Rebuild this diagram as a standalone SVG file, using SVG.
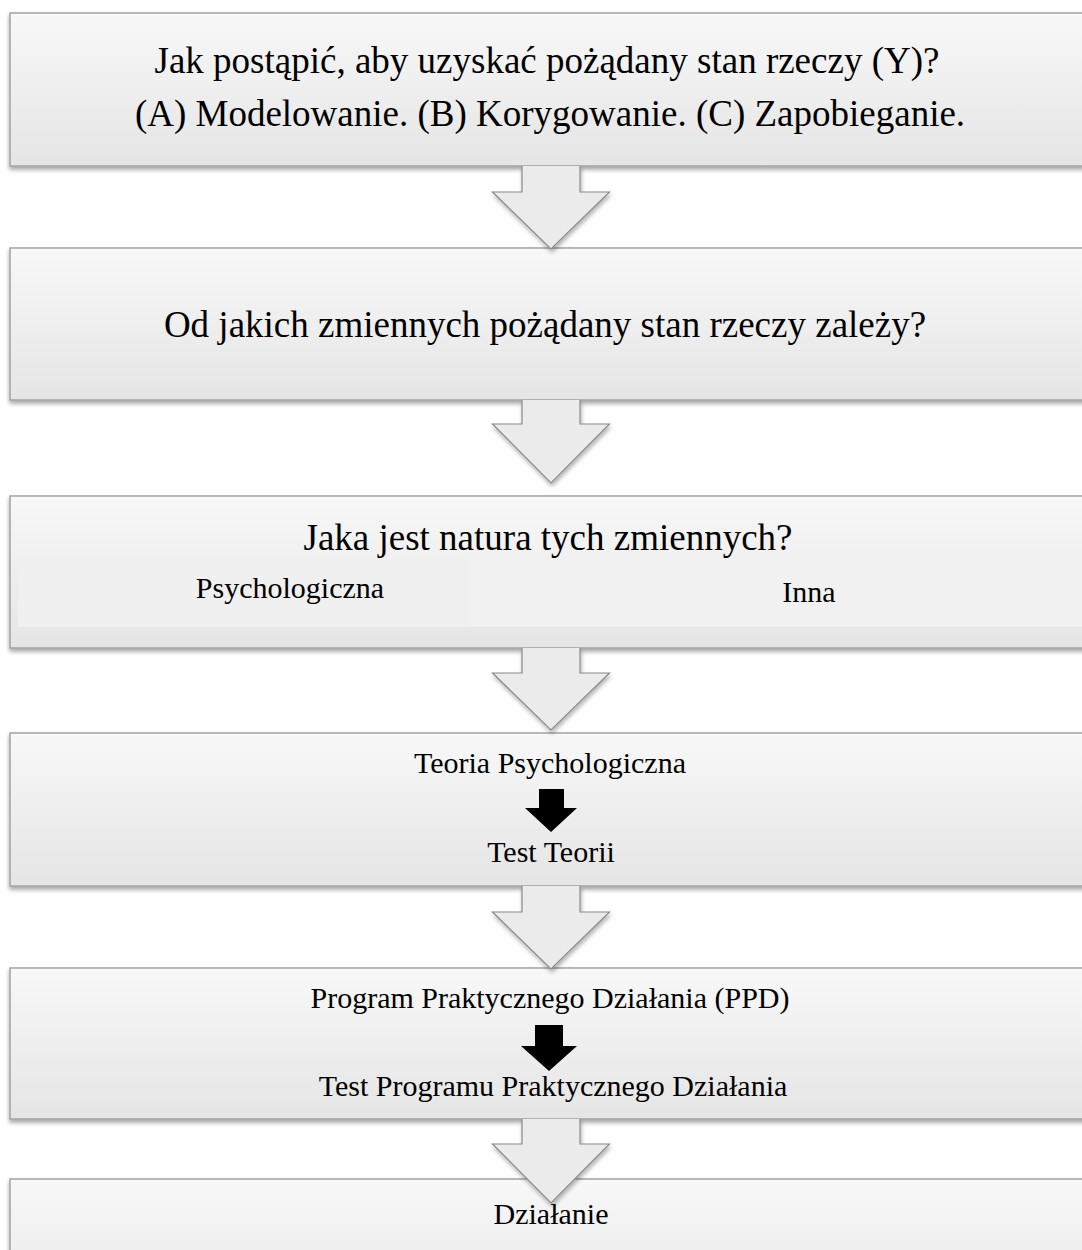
<svg xmlns="http://www.w3.org/2000/svg" width="1082" height="1250" viewBox="0 0 1082 1250">
<defs>
<linearGradient id="boxGrad" x1="0" y1="0" x2="0" y2="1">
<stop offset="0" stop-color="#f8f8f8"/>
<stop offset="1" stop-color="#e5e5e5"/>
</linearGradient>
<filter id="shadow" x="-5%" y="-10%" width="110%" height="130%">
<feDropShadow dx="0" dy="3" stdDeviation="2" flood-color="#000" flood-opacity="0.35"/>
</filter>
<filter id="ashadow" x="-20%" y="-20%" width="140%" height="140%">
<feDropShadow dx="1" dy="3" stdDeviation="2" flood-color="#000" flood-opacity="0.3"/>
</filter>
<marker id="unused" markerWidth="1" markerHeight="1"/>
</defs>
<style>
.box{fill:url(#boxGrad);stroke:#a3a3a3;stroke-width:1.5;filter:url(#shadow);}
.inner{fill:#f0f0f0;stroke:none;}
.big{font-family:"Liberation Serif","Times New Roman",serif;font-size:37px;fill:#000;text-anchor:middle;}
.small{font-family:"Liberation Serif","Times New Roman",serif;font-size:30px;fill:#000;text-anchor:middle;}
.arrowFill{fill:#ebebeb;stroke:none;}
.arrowLine{fill:none;stroke:#8a8a8a;stroke-width:1.2;stroke-linejoin:miter;}
.black{fill:#000;}
</style>
<rect width="1082" height="1250" fill="#ffffff"/>

<g id="node1">
<rect class="box" x="10" y="13" width="1090" height="153"/>
<text class="big" x="547" y="73">Jak postąpić, aby uzyskać pożądany stan rzeczy (Y)?</text>
<text class="big" x="550" y="126">(A) Modelowanie. (B) Korygowanie. (C) Zapobieganie.</text>
</g>

<g id="node2">
<rect class="box" x="10" y="248" width="1090" height="152"/>
<text class="big" x="545" y="337">Od jakich zmiennych pożądany stan rzeczy zależy?</text>
</g>

<g id="node3">
<rect class="box" x="10" y="496" width="1090" height="152"/>
<rect class="inner" x="18" y="558" width="452" height="69"/>
<rect class="inner" x="470" y="558" width="612" height="69" style="fill:#f1f1f1"/>
<text class="big" x="548" y="550">Jaka jest natura tych zmiennych?</text>
<text class="small" x="290" y="598">Psychologiczna</text>
<text class="small" x="809" y="602">Inna</text>
</g>

<g id="node4">
<rect class="box" x="10" y="733" width="1090" height="153"/>
<text class="small" x="550" y="773">Teoria Psychologiczna</text>
<path class="black" d="M539,789 H564 V808 H577 L551,832 L525,808 H539 Z"/>
<text class="small" x="551" y="862">Test Teorii</text>
</g>

<g id="node5">
<rect class="box" x="10" y="968" width="1090" height="151"/>
<text class="small" x="550" y="1008">Program Praktycznego Działania (PPD)</text>
<path class="black" d="M535,1025 H563 V1046 H577 L549,1071 L521,1046 H535 Z"/>
<text class="small" x="553" y="1096">Test Programu Praktycznego Działania</text>
</g>

<g id="node6">
<rect class="box" x="10" y="1179" width="1090" height="153"/>
<text class="small" x="551" y="1224">Działanie</text>
</g>

<g id="connectors">
<g filter="url(#ashadow)">
<path class="arrowFill" d="M522,166 H580 V192 H609.5 L551,249 L492.5,192 H522 Z"/>
<path class="arrowLine" d="M522,166 V192 H492.5 L551,249 L609.5,192 H580 V166"/>
</g>
<g filter="url(#ashadow)">
<path class="arrowFill" d="M522,400 H580 V424 H609.5 L551,483 L492.5,424 H522 Z"/>
<path class="arrowLine" d="M522,400 V424 H492.5 L551,483 L609.5,424 H580 V400"/>
</g>
<g filter="url(#ashadow)">
<path class="arrowFill" d="M522,648 H580 V673 H609.5 L551,730 L492.5,673 H522 Z"/>
<path class="arrowLine" d="M522,648 V673 H492.5 L551,730 L609.5,673 H580 V648"/>
</g>
<g filter="url(#ashadow)">
<path class="arrowFill" d="M522,886 H580 V912 H609.5 L551,969 L492.5,912 H522 Z"/>
<path class="arrowLine" d="M522,886 V912 H492.5 L551,969 L609.5,912 H580 V886"/>
</g>
<g filter="url(#ashadow)">
<path class="arrowFill" d="M522,1119 H580 V1144 H609.5 L551,1203 L492.5,1144 H522 Z"/>
<path class="arrowLine" d="M522,1119 V1144 H492.5 L551,1203 L609.5,1144 H580 V1119"/>
</g>
</g>
</svg>
